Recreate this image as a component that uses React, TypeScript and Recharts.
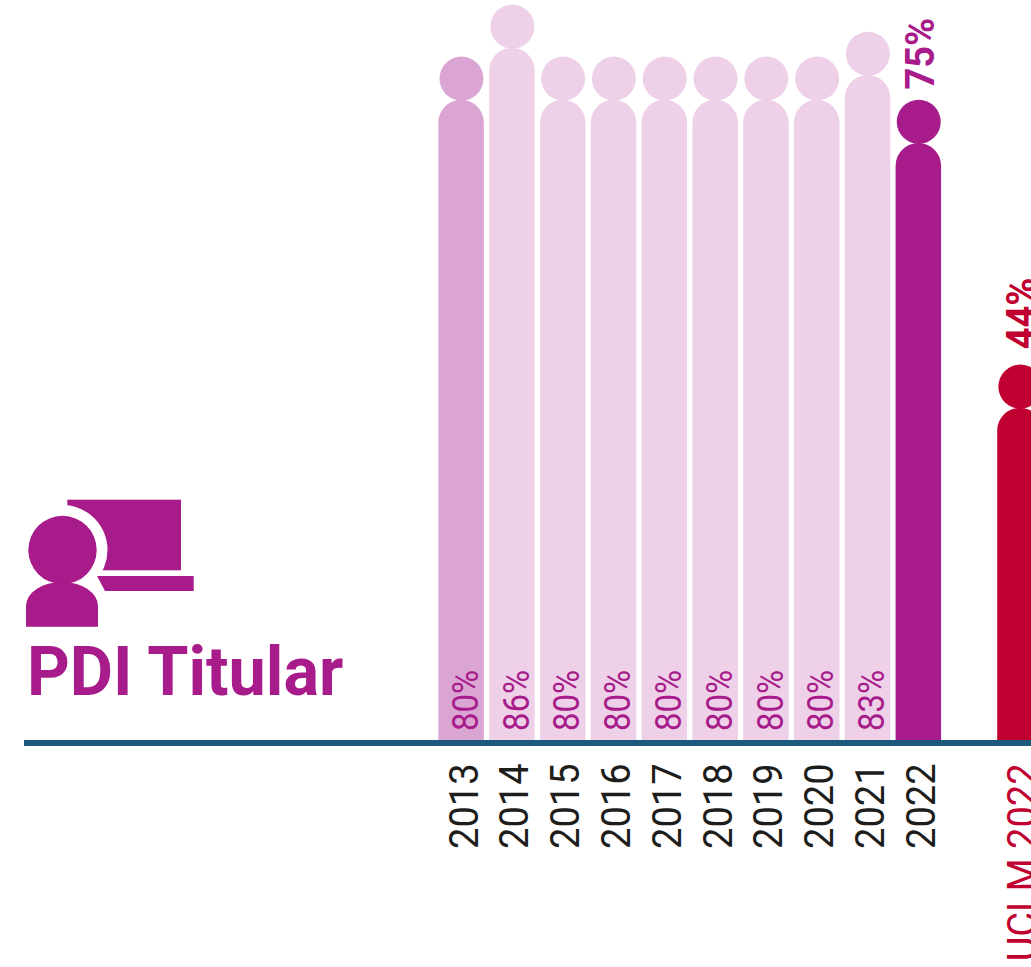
import React from 'react';
import { BarChart, Bar, XAxis, YAxis, Cell, LabelList } from 'recharts';

const categories = ['2013', '2014', '2015', '2016', '2017', '2018', '2019', '2020', '2021', '2022', '', 'UCLM 2022'];
const heights = [80.4, 86.9, 80.4, 80.4, 80.4, 80.4, 80.4, 80.4, 83.5, 75, null, 41.9];
const percentLabels = ['80%', '86%', '80%', '80%', '80%', '80%', '80%', '80%', '83%', '75%', '', '44%'];
const fills = ['#DBA5D3', '#EED1E8', '#EED1E8', '#EED1E8', '#EED1E8', '#EED1E8', '#EED1E8', '#EED1E8', '#EED1E8', '#A71B8A', '#FFFFFF', '#BF0030'];
const boldLabels = ['75%', '44%'];

const PURPLE = '#A71B8A';
const RED = '#BF0030';
const AXIS = '#1C5A7D';
const FONT = 'Roboto, sans-serif';

const data = categories.map((category, i) => ({ category, height: heights[i], label: percentLabels[i], fill: fills[i] }));

const Person = (props: any) => {
  const { x, y, width, height, fill } = props;
  if (!height) return null;
  const r = width / 2;
  const bottom = y + height - 3;
  return (
    <g>
      <path d={`M${x},${bottom} L${x},${y + r} A${r},${r} 0 0 1 ${x + width},${y + r} L${x + width},${bottom} Z`} fill={fill} />
      <circle cx={x + r + 0.4} cy={y - 21.2} r={22} fill={fill} />
    </g>
  );
};

const ValueLabel = (props: any) => {
  const { x, y, width, height, value } = props;
  if (!value) return null;
  if (boldLabels.includes(value)) {
    const isRed = value === '44%';
    const dx = isRed ? 14.8 : 15.5;
    const dy = isRed ? 58.5 : 53.5;
    return (
      <text transform={`translate(${x + width / 2 + dx},${y - dy}) rotate(-90) scale(0.95,1)`} fontFamily={FONT} fontWeight={700} fontSize={40} fill={isRed ? RED : PURPLE}>
        {value}
      </text>
    );
  }
  return (
    <text transform={`translate(${x + width / 2 + 16.7},${y + height - 12}) rotate(-90) scale(0.89,1)`} fontFamily={FONT} fontSize={37} fill={PURPLE}>
      {value}
    </text>
  );
};

const Tick = (props: any) => {
  const { x, payload } = props;
  if (!payload.value) return null;
  const color = payload.value.startsWith('UCLM') ? RED : '#1D1D1B';
  return (
    <text transform={`translate(${x + 16.8},763.5) rotate(-90) scale(0.95,1)`} textAnchor="end" fontFamily={FONT} fontSize={40} fill={color}>
      {payload.value}
    </text>
  );
};

const Badge = () => (
  <svg width={1031} height={967} style={{ position: 'absolute', left: 0, top: 0 }}>
    <rect x={67.3} y={499.7} width={113.7} height={70.6} fill={PURPLE} />
    <circle cx={62.5} cy={550} r={45} fill="#FFFFFF" />
    <polygon points="97,576 193.7,576 193.7,591 105,591" fill={PURPLE} />
    <circle cx={62.5} cy={550} r={34.2} fill={PURPLE} />
    <path d="M26,626.7 L26,606 A36,24 0 0 1 98,606 L98,626.7 Z" fill={PURPLE} />
    <text transform="translate(27,695) scale(0.978,1)" fontFamily={FONT} fontWeight={700} fontSize={68} fill={PURPLE}>PDI Titular</text>
  </svg>
);

export default function App() {
  return (
    <div style={{ position: 'absolute', left: 0, top: 0, width: 1031, height: 967, overflow: 'hidden', background: '#FFFFFF' }}>
      <Badge />
      <div style={{ position: 'absolute', left: 0, top: 0 }}>
        <BarChart width={1045} height={967} data={data} margin={{ top: 0, right: 0, bottom: 0, left: 24 }} barSize={45.5}>
          <XAxis
            dataKey="category"
            interval={0}
            height={224}
            padding={{ left: 411.35, right: 0 }}
            axisLine={{ stroke: AXIS, strokeWidth: 6 }}
            tickLine={false}
            tick={<Tick />}
          />
          <YAxis hide domain={[0, 92.875]} allowDataOverflow />
          <Bar dataKey="height" isAnimationActive={false} shape={<Person />}>
            {data.map((d) => (
              <Cell key={d.category || 'gap'} fill={d.fill} />
            ))}
            <LabelList dataKey="label" content={<ValueLabel />} />
          </Bar>
        </BarChart>
      </div>
    </div>
  );
}
